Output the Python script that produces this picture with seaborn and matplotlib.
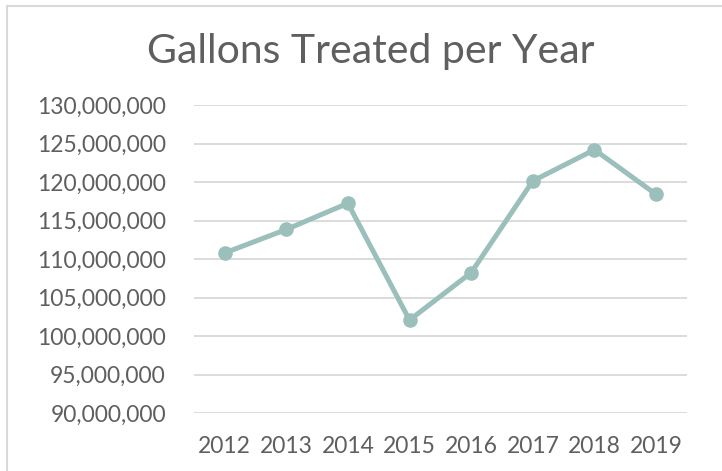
import matplotlib
matplotlib.use("Agg")
import matplotlib.pyplot as plt
import matplotlib.ticker as mticker
from matplotlib.lines import Line2D
import seaborn as sns
import pandas as pd

years = ["2012", "2013", "2014", "2015", "2016", "2017", "2018", "2019"]
gallons = [110_800_000, 113_850_000, 117_250_000, 102_100_000,
           108_250_000, 120_150_000, 124_200_000, 118_400_000]
y_ticks = list(range(90_000_000, 130_000_001, 5_000_000))

sns.set_theme(style="white")
plt.rcParams["font.family"] = ["Lato", "DejaVu Sans"]

TEXT = "#5F5F5F"
LINE = "#9BBFBB"
GRID = "#D9D9D9"

df = pd.DataFrame({"year": years, "gallons": gallons})

fig = plt.figure(figsize=(7.22, 4.71), dpi=100)
ax = fig.add_axes([0.2683, 0.1225, 0.6832, 0.6545])

sns.lineplot(data=df, x="year", y="gallons", ax=ax, color=LINE,
             linewidth=3.6, marker="o", markersize=10.5,
             markeredgewidth=0, sort=False)

ax.set_ylim(y_ticks[0], y_ticks[-1])
ax.set_xlim(-0.5, len(years) - 0.5)
ax.set_yticks(y_ticks)
ax.yaxis.set_major_formatter(mticker.FuncFormatter(lambda v, p: f"{int(v):,}"))
ax.grid(axis="y", color=GRID, linewidth=1.3)
ax.grid(axis="x", visible=False)
ax.set_axisbelow(True)
for s in ax.spines.values():
    s.set_visible(False)
ax.set_xlabel("")
ax.set_ylabel("")
ax.tick_params(axis="both", length=0, labelsize=16.5, labelcolor=TEXT)
ax.tick_params(axis="y", pad=20)
ax.tick_params(axis="x", pad=16)

fig.text(0.514, 0.891, "Gallons Treated per Year", ha="center", va="center",
         fontsize=29.5, color=TEXT)

# chart frame
fig.add_artist(Line2D([7 / 722, 7 / 722], [0, 1 - 6 / 471],
                      color=GRID, linewidth=1.5, transform=fig.transFigure))
fig.add_artist(Line2D([7 / 722, 1], [1 - 6 / 471, 1 - 6 / 471],
                      color=GRID, linewidth=1.5, transform=fig.transFigure))

fig.savefig("out.png", dpi=100, facecolor="white")
